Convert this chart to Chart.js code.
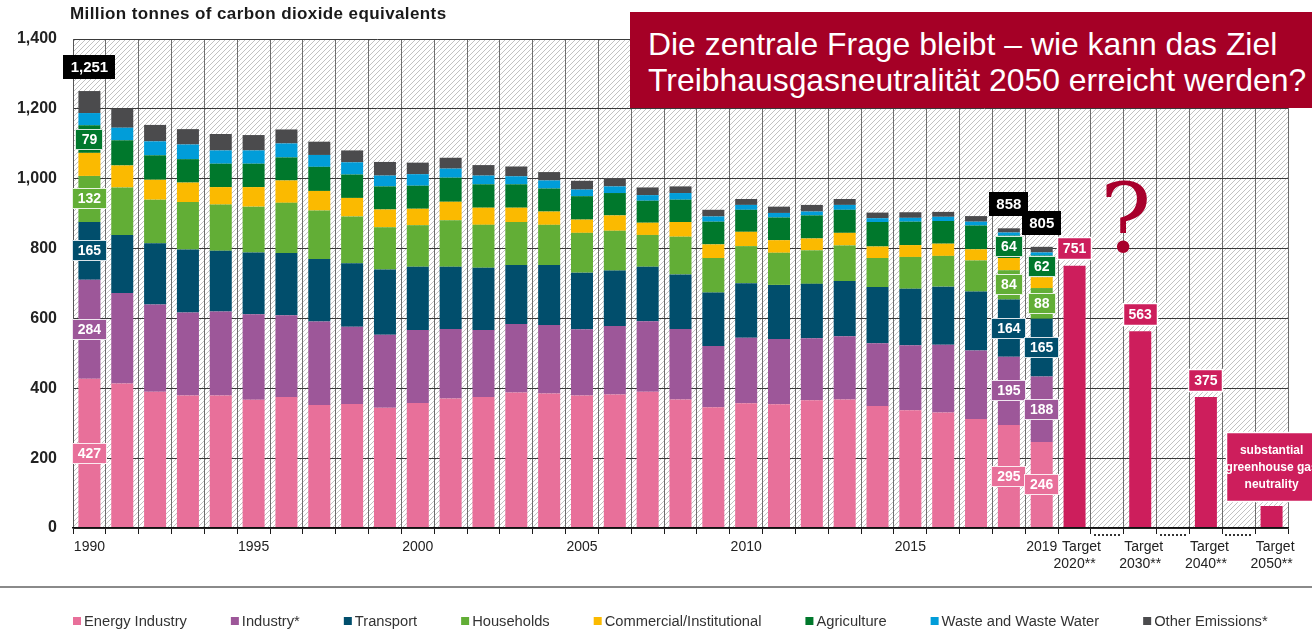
<!DOCTYPE html>
<html>
<head>
<meta charset="utf-8">
<script src="https://cdn.jsdelivr.net/npm/chart.js@4.4.0/dist/chart.umd.min.js"></script>
<style>
html,body{margin:0;padding:0;background:#fff;}
#wrap{position:relative;width:1312px;height:630px;overflow:hidden;}
#c{position:absolute;left:0;top:0;}
#headline{position:absolute;left:630px;top:12px;width:682px;height:96px;background:#A50026;color:#fff;
  font-family:"Liberation Sans",Arial,Helvetica,sans-serif;font-size:31.9px;line-height:36px;
  box-sizing:border-box;padding:14px 0 0 18px;white-space:nowrap;}
</style>
</head>
<body>
<div id="wrap">
<canvas id="c" width="1312" height="630"></canvas>
<div id="headline">Die zentrale Frage bleibt – wie kann das Ziel<br>Treibhausgasneutralität 2050 erreicht werden?</div>
</div>
<script>
// ---------------- data ----------------
const years = ['1990','1991','1992','1993','1994','1995','1996','1997','1998','1999',
               '2000','2001','2002','2003','2004','2005','2006','2007','2008','2009',
               '2010','2011','2012','2013','2014','2015','2016','2017','2018','2019'];
const energyIndustry = [427,414,390,379,379,367,375,352,355,344,358,371,375,388,385,379,382,390,368,346,357,354,366,368,349,337,331,312,295,246];
const industry       = [284,259,250,238,241,245,234,239,221,209,209,199,192,196,196,190,196,202,202,175,188,187,177,181,180,186,194,196,195,188];
const transport      = [165,166,175,180,174,177,178,179,182,187,181,178,178,169,172,162,159,156,156,153,156,155,156,158,161,162,166,169,164,165];
const households     = [132,136,125,136,132,131,144,139,134,121,119,133,123,123,115,114,114,91,108,99,106,92,96,102,83,91,88,89,84,88];
const commercial     = [66,63,57,56,50,56,64,56,53,51,47,53,49,41,38,38,44,35,42,39,41,36,34,36,33,34,35,32,35,31];
const agriculture    = [79,72,70,67,67,67,66,69,67,66,66,69,67,67,66,67,64,63,64,65,63,65,66,66,70,67,65,68,64,62];
const wasteWater     = [35,36,40,42,38,38,40,34,35,31,33,26,25,23,23,19,19,16,19,15,14,13,11,14,11,11,12,11,9,9];
const otherEmissions = [63,55,47,44,47,44,40,38,34,39,33,31,30,28,24,25,24,22,19,19,17,18,19,17,16,16,14,16,12,16];

const targetLabels = ['Target 2020**','Target 2030**','Target 2040**','Target 2050**'];
const targetValues = [751, 563, 375, 63];
const targetNote   = ['substantial','greenhouse gas','neutrality'];

const shownYearTicks = ['1990','1995','2000','2005','2010','2015','2019'];
const labelledYears  = ['1990','2018','2019'];
const yTickValues    = [0,200,400,600,800,1000,1200,1400];

const sectorNames = ['Energy Industry','Industry*','Transport','Households','Commercial/Institutional','Agriculture','Waste and Waste Water','Other Emissions*'];
const sectorSeries = [energyIndustry, industry, transport, households, commercial, agriculture, wasteWater, otherEmissions];
const labelledSectors = [0,1,2,3,5];

// ---------------- styles ----------------
const FONT = '"Liberation Sans", Arial, Helvetica, sans-serif';
const sectorColors = ['#E8709A','#9D5799','#014E6C','#62AE36','#FBBA00','#00782C','#019DD9','#4B4B4D'];
const targetColor = '#CD1E5C';

// ---------------- categories ----------------
const categories = years.slice();
const targetIndex = [];
const gapIndex = [];
targetLabels.forEach((t, i) => {
  if (i > 0) { gapIndex.push(categories.length); categories.push('gap' + i); }
  targetIndex.push(categories.length);
  categories.push(t);
});
const pad = arr => categories.map((_, i) => i < arr.length ? arr[i] : null);
const targetData = categories.map((_, i) => {
  const k = targetIndex.indexOf(i);
  return k >= 0 ? targetValues[k] : null;
});

const datasets = sectorNames.map((name, s) => ({
  label: name,
  data: pad(sectorSeries[s]),
  backgroundColor: sectorColors[s],
  borderWidth: 0,
  stack: 'all'
}));
datasets.push({ label: 'Targets', data: targetData, backgroundColor: targetColor, borderWidth: 0, stack: 'all' });

const fmt = v => String(v).replace(/\B(?=(\d{3})+(?!\d))/g, ',');

// ---------------- helpers ----------------
let hatchPattern = null;
function getHatch(ctx) {
  if (hatchPattern) return hatchPattern;
  const s = 5;
  const p = document.createElement('canvas');
  p.width = s; p.height = s;
  const g = p.getContext('2d');
  g.fillStyle = '#ffffff'; g.fillRect(0, 0, s, s);
  g.strokeStyle = '#c2c2c2'; g.lineWidth = 1;
  g.beginPath();
  g.moveTo(0, s); g.lineTo(s, 0);
  g.moveTo(-1, 1); g.lineTo(1, -1);
  g.moveTo(s - 1, s + 1); g.lineTo(s + 1, s - 1);
  g.stroke();
  hatchPattern = ctx.createPattern(p, 'repeat');
  return hatchPattern;
}

function labelBox(ctx, cx, cy, lines, o) {
  ctx.font = o.font;
  const tw = Math.max(...lines.map(l => ctx.measureText(l).width));
  const w = o.width || Math.round(tw + o.padX * 2);
  const h = o.height;
  const x = Math.round(cx - w / 2), y = Math.round(cy - h / 2);
  ctx.fillStyle = o.fill;
  ctx.fillRect(x, y, w, h);
  if (o.border) {
    ctx.strokeStyle = o.border; ctx.lineWidth = o.borderWidth || 1;
    ctx.strokeRect(x + 0.5, y + 0.5, w - 1, h - 1);
  }
  ctx.fillStyle = '#ffffff';
  ctx.textAlign = 'center';
  ctx.textBaseline = 'middle';
  const lh = o.lineHeight || 0;
  lines.forEach((l, k) => ctx.fillText(l, cx, y + h / 2 + (k - (lines.length - 1) / 2) * lh + 1));
}

const decor = {
  id: 'decor',
  beforeDraw(chart) {
    const { ctx, chartArea: a } = chart;
    ctx.save();
    ctx.fillStyle = getHatch(ctx);
    ctx.fillRect(a.left, a.top, a.right - a.left, a.bottom - a.top);
    ctx.restore();
  },
  afterDraw(chart) {
    const { ctx, chartArea: a } = chart;
    const xs = chart.scales.x, ys = chart.scales.y;
    ctx.save();

    // axis title
    ctx.fillStyle = '#1a1a1a';
    ctx.font = 'bold 17px ' + FONT;
    if ('letterSpacing' in ctx) ctx.letterSpacing = '0.4px';
    ctx.textAlign = 'left'; ctx.textBaseline = 'middle';
    ctx.fillText('Million tonnes of carbon dioxide equivalents', 70, 14);
    if ('letterSpacing' in ctx) ctx.letterSpacing = '0px';

    // separator line above legend
    ctx.strokeStyle = '#8a8a8a'; ctx.lineWidth = 2;
    ctx.beginPath(); ctx.moveTo(0, 587); ctx.lineTo(chart.width, 587); ctx.stroke();

    // dotted gaps between targets
    ctx.fillStyle = '#333';
    const half = (xs.getPixelForValue(1) - xs.getPixelForValue(0)) / 2;
    gapIndex.forEach(i => {
      const cx = xs.getPixelForValue(i);
      for (let x = cx - half + 3; x < cx + half - 2; x += 4) ctx.fillRect(Math.round(x), a.bottom + 6, 2, 2);
    });

    // legend
    ctx.font = '14.7px ' + FONT;
    ctx.textBaseline = 'middle'; ctx.textAlign = 'left';
    let lx = 73;
    const ly = 621;
    sectorNames.forEach((name, s) => {
      ctx.fillStyle = sectorColors[s];
      ctx.fillRect(lx, ly - 4, 8, 8);
      ctx.fillStyle = '#333';
      ctx.fillText(name, lx + 11, ly + 1);
      lx += 11 + ctx.measureText(name).width + 44;
    });

    // segment labels
    labelledYears.forEach(yr => {
      const idx = categories.indexOf(yr);
      labelledSectors.forEach(s => {
        const el = chart.getDatasetMeta(s).data[idx];
        const v = chart.data.datasets[s].data[idx];
        labelBox(ctx, el.x, (el.y + el.base) / 2, [String(v)],
          { font: 'bold 14px ' + FONT, padX: 6, height: 21, fill: sectorColors[s], border: 'rgba(255,255,255,0.85)' });
      });
      // total
      const topEl = chart.getDatasetMeta(sectorNames.length - 1).data[idx];
      const total = sectorSeries.reduce((acc, arr) => acc + arr[idx], 0);
      labelBox(ctx, topEl.x, topEl.y - 24, [fmt(total)],
        { font: 'bold 15px ' + FONT, padX: 7, height: 24, fill: '#000000' });
    });

    // target labels
    const tMeta = chart.getDatasetMeta(sectorNames.length);
    targetIndex.forEach((idx, k) => {
      const el = tMeta.data[idx];
      if (k < targetIndex.length - 1) {
        labelBox(ctx, el.x, el.y - 17, [fmt(targetValues[k])],
          { font: 'bold 14px ' + FONT, padX: 6, height: 23, fill: targetColor, border: '#ffffff', borderWidth: 1.5 });
      } else {
        labelBox(ctx, el.x, el.y - 39, targetNote,
          { font: 'bold 12px ' + FONT, width: 92, height: 70, lineHeight: 17, fill: targetColor, border: '#ffffff', borderWidth: 1.5 });
      }
    });

    // question mark
    const qx = (xs.getPixelForValue(gapIndex[0]) + xs.getPixelForValue(targetIndex[1])) / 2 + 2;
    ctx.fillStyle = '#A8002C';
    ctx.font = '96px "DejaVu Serif", "Liberation Serif", serif';
    ctx.textAlign = 'center'; ctx.textBaseline = 'alphabetic';
    ctx.fillText('?', qx, ys.getPixelForValue(790));

    ctx.restore();
  }
};

new Chart(document.getElementById('c'), {
  type: 'bar',
  data: { labels: categories, datasets },
  options: {
    responsive: false,
    animation: false,
    devicePixelRatio: 1,
    layout: { padding: { top: 39, right: 24, bottom: 0, left: 0 } },
    datasets: { bar: { barPercentage: 0.67, categoryPercentage: 1.0 } },
    plugins: { legend: { display: false }, tooltip: { enabled: false }, title: { display: false } },
    scales: {
      x: {
        stacked: true,
        offset: true,
        grid: { offset: true, color: '#6e6e6e', lineWidth: 1, drawTicks: true, tickLength: 6, tickColor: '#1a1a1a' },
        border: { color: '#111', width: 1.5, z: 1 },
        ticks: {
          autoSkip: false, maxRotation: 0, minRotation: 0, padding: 5, color: '#222',
          font: { family: FONT, size: 14 },
          callback: function (v) {
            const l = this.getLabelForValue(v);
            if (shownYearTicks.includes(l)) return l;
            const k = targetLabels.indexOf(l);
            if (k >= 0) {
              const parts = l.split(' ');
              return [(k === 0 ? '\u2003' : '\u2002') + parts[0], parts[1]];
            }
            return '';
          }
        },
        afterFit: s => { s.height = 102; }
      },
      y: {
        stacked: true,
        min: yTickValues[0],
        max: yTickValues[yTickValues.length - 1],
        afterBuildTicks: s => { s.ticks = yTickValues.map(v => ({ value: v })); },
        grid: { color: '#3a3a3a', lineWidth: 1, drawTicks: false },
        border: { color: '#555', width: 1 },
        ticks: { padding: 16, color: '#222', font: { family: FONT, size: 16, weight: 'bold' }, callback: v => fmt(v) },
        afterFit: s => { s.width = 73; }
      }
    }
  },
  plugins: [decor]
});
</script>
</body>
</html>
